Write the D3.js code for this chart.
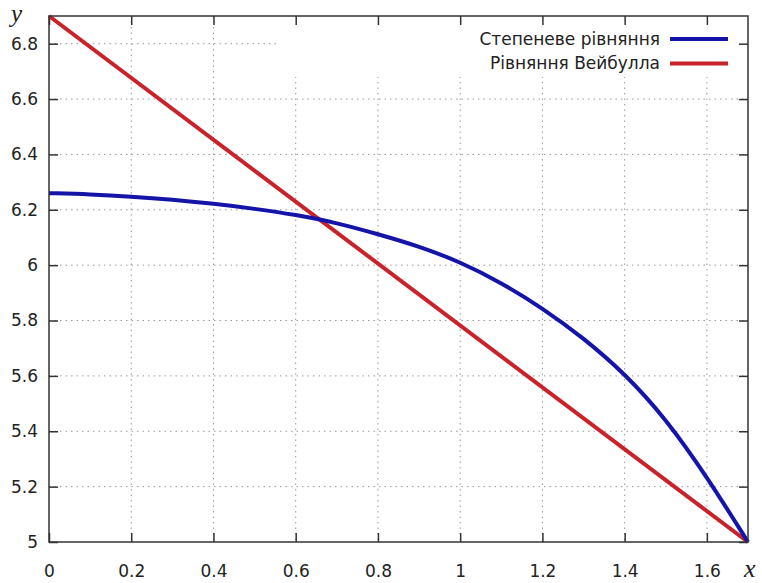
<!DOCTYPE html>
<html>
<head>
<meta charset="utf-8">
<script src="https://cdn.jsdelivr.net/npm/d3@7"></script>
<style>
  body { margin: 0; background: #fff; }
  text { font-family: "DejaVu Sans", sans-serif; fill: #222; }
</style>
</head>
<body>
<script>
// Data
const xTicks = [0, 0.2, 0.4, 0.6, 0.8, 1, 1.2, 1.4, 1.6];
const yTicks = [5, 5.2, 5.4, 5.6, 5.8, 6, 6.2, 6.4, 6.6, 6.8];

const powerX = [0, 0.1, 0.2, 0.3, 0.4, 0.5, 0.6, 0.7, 0.8, 0.9, 1.0, 1.1, 1.2, 1.3, 1.4, 1.5, 1.6, 1.7];
const powerY = [6.26, 6.256, 6.248, 6.237, 6.222, 6.204, 6.182, 6.153, 6.112, 6.068, 6.012, 5.937, 5.845, 5.737, 5.609, 5.446, 5.236, 5.0];

const weibullX = [0, 1.7];
const weibullY = [6.9, 5.0];

const seriesNames = ["Степеневе рівняння", "Рівняння Вейбулла"];
const seriesColors = ["#1414a8", "#c8232b"];

let width = 762, height = 583;
let margin = { top: 16, bottom: 41, left: 49, right: 14 };

let svg = d3.select('body')
    .append('svg')
    .attr('width', width)
    .attr('height', height);

// Scales
let xScale = d3.scaleLinear()
    .domain([0, 1.7])
    .range([margin.left, width - margin.right]);

let yScale = d3.scaleLinear()
    .domain([5, 6.9])
    .range([height - margin.bottom, margin.top]);

// Grid (dotted)
let grid = svg.append('g');
grid.selectAll('.vg')
    .data(xTicks.slice(1))
    .enter()
    .append('line')
    .attr('x1', d => xScale(d)).attr('x2', d => xScale(d))
    .attr('y1', margin.top).attr('y2', height - margin.bottom)
    .attr('stroke', '#9a9a9a')
    .attr('stroke-width', 1)
    .attr('stroke-dasharray', '1.5,4');
grid.selectAll('.hg')
    .data(yTicks.slice(1))
    .enter()
    .append('line')
    .attr('x1', margin.left).attr('x2', width - margin.right)
    .attr('y1', d => yScale(d)).attr('y2', d => yScale(d))
    .attr('stroke', '#9a9a9a')
    .attr('stroke-width', 1)
    .attr('stroke-dasharray', '1.5,4');

// Blank area behind the key
svg.append('rect')
    .attr('x', 278)
    .attr('y', margin.top + 1)
    .attr('width', width - margin.right - 278)
    .attr('height', 60)
    .attr('fill', '#fff');

// Axes with inward ticks
const fmt = d3.format('~g');

let xAxis = svg.append('g')
    .attr('transform', `translate(0, ${height - margin.bottom})`)
    .call(d3.axisBottom(xScale).tickValues(xTicks).tickSizeInner(-9).tickSizeOuter(0).tickPadding(23).tickFormat(fmt));

let yAxis = svg.append('g')
    .attr('transform', `translate(${margin.left}, 0)`)
    .call(d3.axisLeft(yScale).tickValues(yTicks).tickSizeInner(-9).tickSizeOuter(0).tickPadding(11).tickFormat(fmt));

let topAxis = svg.append('g')
    .attr('transform', `translate(0, ${margin.top})`)
    .call(d3.axisTop(xScale).tickValues(xTicks).tickSizeInner(-9).tickSizeOuter(0).tickFormat(''));

let rightAxis = svg.append('g')
    .attr('transform', `translate(${width - margin.right}, 0)`)
    .call(d3.axisRight(yScale).tickValues(yTicks).tickSizeInner(-9).tickSizeOuter(0).tickFormat(''));

[xAxis, yAxis, topAxis, rightAxis].forEach(a => {
    a.select('.domain').remove();
    a.selectAll('line').attr('stroke', '#333').attr('stroke-width', 1.5);
    a.selectAll('text').style('font-size', '17px').attr('fill', '#222');
});

// Lines
let line = d3.line()
    .x(d => xScale(d[0]))
    .y(d => yScale(d[1]))
    .curve(d3.curveBasis);

svg.append('path')
    .datum(weibullX.map((x, i) => [x, weibullY[i]]))
    .attr('d', line)
    .attr('fill', 'none')
    .attr('stroke', seriesColors[1])
    .attr('stroke-width', 4);

svg.append('path')
    .datum(powerX.map((x, i) => [x, powerY[i]]))
    .attr('d', line)
    .attr('fill', 'none')
    .attr('stroke', seriesColors[0])
    .attr('stroke-width', 4);

// Border
svg.append('rect')
    .attr('x', margin.left)
    .attr('y', margin.top)
    .attr('width', width - margin.left - margin.right)
    .attr('height', height - margin.top - margin.bottom)
    .attr('fill', 'none')
    .attr('stroke', '#333')
    .attr('stroke-width', 1.5);

// Legend
let legend = svg.append('g');
seriesNames.forEach((name, i) => {
    let ly = 39 + i * 24.5;
    legend.append('text')
        .attr('x', 660)
        .attr('y', ly)
        .attr('dy', '0.35em')
        .attr('text-anchor', 'end')
        .style('font-size', '17px')
        .text(name);
    legend.append('line')
        .attr('x1', 670).attr('x2', 728)
        .attr('y1', ly).attr('y2', ly)
        .attr('stroke', seriesColors[i])
        .attr('stroke-width', 4);
});

// Axis titles
svg.append('text')
    .attr('x', 11)
    .attr('y', 22)
    .style('font-family', '"Liberation Serif", serif')
    .style('font-style', 'italic')
    .style('font-size', '25px')
    .text('y');

svg.append('text')
    .attr('x', 744)
    .attr('y', 577)
    .style('font-family', '"Liberation Serif", serif')
    .style('font-style', 'italic')
    .style('font-size', '26px')
    .text('x');
</script>
</body>
</html>
